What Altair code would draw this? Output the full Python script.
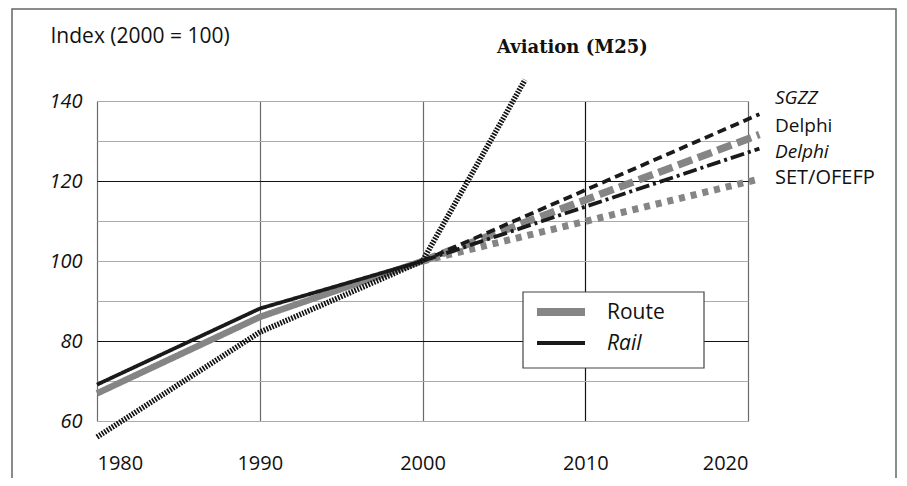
import altair as alt
import pandas as pd

# ---- data ----
hist_years = [1980, 1990, 2000]
route_hist = [66.9, 86.0, 100.0]
rail_hist = [69.1, 88.1, 100.0]

aviation_years = [1980, 1990, 2000, 2006.3]
aviation_vals = [56.0, 82.2, 100.0, 145.3]

fc_years = [2000, 2020.7]
delphi_route = [100.0, 131.6]
set_ofefp = [100.0, 120.5]
sgzz = [100.0, 136.7]
delphi_rail = [100.0, 128.1]

series_names = ["Route", "Rail", "Aviation", "Delphi (route)", "SET/OFEFP", "SGZZ", "Delphi (rail)"]
series_colors = ["#858585", "#1a1a1a", "#111111", "#858585", "#858585", "#1a1a1a", "#1a1a1a"]
series_widths = [6.5, 3.8, 5.5, 7.5, 7, 3.8, 3.8]
series_dash = [[1, 0], [1, 0], [1.7, 1.3], [15, 6], [6, 6], [9, 5], [14, 4, 3, 4]]

rows = []
def add(name, xs, ys):
    for x, y in zip(xs, ys):
        rows.append({"year": x, "value": y, "series": name})

add("Route", hist_years, route_hist)
add("Rail", hist_years, rail_hist)
add("Delphi (route)", fc_years, delphi_route)
add("SET/OFEFP", fc_years, set_ofefp)
add("SGZZ", fc_years, sgzz)
add("Delphi (rail)", fc_years, delphi_rail)
add("Aviation", aviation_years, aviation_vals)
df = pd.DataFrame(rows)

FONT = "Open Sans"

x_enc = alt.X("year:Q",
              scale=alt.Scale(domain=[1980, 2020], nice=False, zero=False),
              axis=alt.Axis(values=[1980, 1990, 2000, 2010, 2020], format="d",
                            grid=True,
                            gridColor=alt.condition("datum.value == 2010", alt.value("#111111"), alt.value("#6a6a6a")),
                            gridWidth=1.2, ticks=False, domain=False,
                            labelFont=FONT, labelFontSize=20, labelColor="#111111",
                            labelPadding=32, title=None))
y_enc = alt.Y("value:Q",
              scale=alt.Scale(domain=[60, 140], nice=False, zero=False),
              axis=alt.Axis(values=[60, 70, 80, 90, 100, 110, 120, 130, 140],
                            labelExpr="datum.value % 20 == 0 ? datum.label : ''",
                            grid=True,
                            gridColor=alt.condition("datum.value == 80 || datum.value == 120",
                                                    alt.value("#111111"), alt.value("#ababab")),
                            gridWidth=1.2, ticks=False, domain=False,
                            labelFont=FONT, labelFontSize=20, labelFontStyle="italic",
                            labelColor="#111111", labelPadding=15,
                            title="Index (2000 = 100)", titleAngle=0, titleAlign="left",
                            titleBaseline="alphabetic", titleX=-47, titleY=-59,
                            titleFont=FONT, titleFontSize=21, titleFontWeight="normal",
                            titleColor="#111111"))

lines = alt.Chart(df).mark_line(clip=False, strokeCap="butt", strokeJoin="round").encode(
    x=x_enc,
    y=y_enc,
    detail="series:N",
    color=alt.Color("series:N", scale=alt.Scale(type="ordinal", domain=series_names, range=series_colors), legend=None),
    strokeWidth=alt.StrokeWidth("series:N", scale=alt.Scale(type="ordinal", domain=series_names, range=series_widths), legend=None),
    strokeDash=alt.StrokeDash("series:N", scale=alt.Scale(type="ordinal", domain=series_names, range=series_dash), legend=None),
    order="year:Q",
)

one = pd.DataFrame({"k": [0]})

frame = alt.Chart(one).mark_rect(fillOpacity=0, stroke="#666666", strokeWidth=1.5).encode(
    x=alt.value(-85), x2=alt.value(799), y=alt.value(-92), y2=alt.value(420))

# legend (manual box)
leg_box = alt.Chart(one).mark_rect(fill="white", stroke="#444444", strokeWidth=1.2).encode(
    x=alt.value(426), x2=alt.value(607), y=alt.value(191), y2=alt.value(267))
leg_route = alt.Chart(one).mark_rule(color="#858585", strokeWidth=8).encode(
    x=alt.value(440), x2=alt.value(488), y=alt.value(211))
leg_rail = alt.Chart(one).mark_rule(color="#1a1a1a", strokeWidth=4).encode(
    x=alt.value(440), x2=alt.value(488), y=alt.value(242))

def label(text, x, y, size=19, style="normal", weight="normal", font=FONT, align="left", baseline="middle"):
    d = pd.DataFrame({"t": [text]})
    return alt.Chart(d).mark_text(align=align, baseline=baseline, font=font, fontSize=size,
                                  fontStyle=style, fontWeight=weight, color="#111111").encode(
        text="t:N", x=alt.value(x), y=alt.value(y))

texts = [
    label("Route", 510, 212, size=21),
    label("Rail", 510, 243, size=21, style="italic"),
    label("SGZZ", 678, -3, style="italic"),
    label("Delphi", 678, 25),
    label("Delphi", 678, 51, style="italic"),
    label("SET/OFEFP", 678, 77, size=20),
    label("Aviation (M25)", 400, -48, size=18, weight="bold", font="DejaVu Serif", baseline="alphabetic"),
]

chart = alt.layer(frame, lines, leg_box, leg_route, leg_rail, *texts).properties(
    width=651, height=320,
    autosize=alt.AutoSizeParams(type="none"),
    padding={"left": 89, "top": 93, "right": 149, "bottom": 57},
).configure_view(stroke="#111111", strokeWidth=2).configure(background="white")

chart.save("out.html", embed_options={"renderer": "svg", "actions": False})
